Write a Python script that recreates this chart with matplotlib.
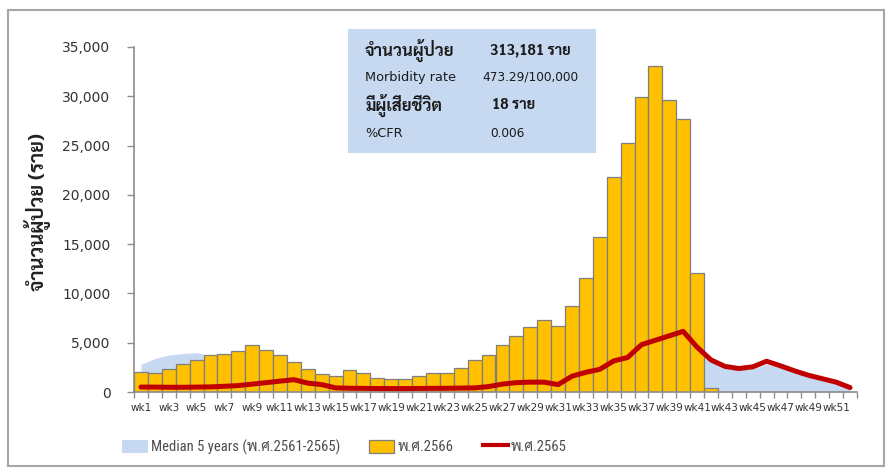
import matplotlib
matplotlib.use("Agg")
import matplotlib.pyplot as plt
import numpy as np
from matplotlib import font_manager
from matplotlib.patches import Patch, Rectangle
from matplotlib.lines import Line2D

# === Data ===
week_labels = [f"wk{i}" for i in range(1, 53)]

cases_2566 = [2060, 1890, 2330, 2800, 3240, 3750, 3820, 4160, 4770, 4260,
              3750, 3070, 2300, 1790, 1620, 2230, 1890, 1450, 1280, 1280,
              1660, 1960, 1960, 2470, 3240, 3750, 4770, 5700, 6620, 7270,
              6690, 8720, 11560, 15750, 21830, 25280, 29940, 33090, 29600, 27680,
              12100, 440]

cases_2565 = [500, 500, 480, 480, 500, 520, 580, 650, 800, 950,
              1100, 1250, 900, 750, 420, 380, 370, 350, 350, 350,
              360, 370, 380, 400, 420, 550, 800, 950, 1000, 1000,
              750, 1600, 2000, 2300, 3150, 3500, 4800, 5250, 5700, 6150,
              4550, 3250, 2600, 2380, 2550, 3120, 2650, 2150, 1700, 1350,
              1000, 450]

median_5y = [2800, 3400, 3750, 3900, 4000, 3700, 3500, 3300, 3000, 2800,
             2500, 2200, 1900, 1600, 1400, 1300, 1250, 1150, 1100, 1100,
             1200, 1350, 1500, 1800, 2200, 2700, 3100, 3500, 3800, 4000,
             4100, 4200, 4300, 4300, 4300, 4200, 4100, 4000, 3900, 3800,
             3700, 3200, 2450, 2250, 2350, 2800, 2450, 2000, 1550, 1200,
             850, 350]

y_ticks = [0, 5000, 10000, 15000, 20000, 25000, 30000, 35000]

info_rows = [
    ("จำนวนผู้ป่วย", "313,181 ราย", True),
    ("Morbidity rate", "473.29/100,000", False),
    ("มีผู้เสียชีวิต", "18 ราย", True),
    ("%CFR", "0.006", False),
]


# === Fonts ===
def pick_font(candidates, default="DejaVu Sans"):
    names = {f.name for f in font_manager.fontManager.ttflist}
    for c in candidates:
        if c in names:
            return c
    return default


thai_font = pick_font(["Sarabun", "Noto Sans Thai Looped", "Noto Sans Thai",
                       "IBM Plex Sans Thai Looped", "Bai Jamjuree"])
narrow_font = pick_font(["Liberation Sans Narrow", "Roboto Condensed",
                         "Open Sans Condensed", "Liberation Sans"])
plt.rcParams["font.family"] = ["DejaVu Sans", thai_font]

BLUE = "#c6d9f1"
GOLD = "#ffc000"
RED = "#c00000"
GRAY = "#8c8c8c"
TXT = "#333333"

fig = plt.figure(figsize=(8.91, 4.73), dpi=100)
ax = fig.add_axes([134 / 891, 1 - 392 / 473, 723 / 891, 345 / 473])

x_all = np.arange(len(week_labels))
x_bar = np.arange(len(cases_2566))

ax.fill_between(x_all, median_5y, color=BLUE, lw=0, zorder=1)
ax.bar(x_bar, cases_2566, width=1.0, color=GOLD, edgecolor="#7f7f7f",
       linewidth=0.9, zorder=2)
ax.plot(x_all, cases_2565, color=RED, lw=3.6, solid_capstyle="round",
        solid_joinstyle="round", zorder=3)

ax.set_xlim(-0.5, len(week_labels) - 0.5)
ax.set_ylim(0, 35000)

# y axis
ax.set_yticks(y_ticks)
ax.set_yticklabels([f"{v:,}" for v in y_ticks])
ax.tick_params(axis="y", direction="out", length=5, width=1, color=GRAY,
               pad=12, labelsize=10, labelcolor=TXT)

# x axis: ticks on category boundaries, labels every second week
ax.set_xticks(np.arange(-0.5, len(week_labels)), labels=[])
ax.tick_params(axis="x", which="major", direction="out", length=4,
               width=1, color=GRAY)
ax.set_xticks(x_all[::2], labels=week_labels[::2], minor=True)
ax.tick_params(axis="x", which="minor", length=0, pad=8, labelsize=7.5,
               labelcolor=TXT)

for s in ["top", "right"]:
    ax.spines[s].set_visible(False)
for s in ["left", "bottom"]:
    ax.spines[s].set_color(GRAY)
    ax.spines[s].set_linewidth(1.2)

fig.text(38 / 891, 1 - 212 / 473, "จำนวนผู้ป่วย (ราย)", rotation=90,
         ha="center", va="center", fontsize=14.5, fontweight="bold",
         family=thai_font, color="#222222")

# info box
fig.patches.append(Rectangle((348 / 891, 1 - 153 / 473), 248 / 891, 124 / 473,
                             transform=fig.transFigure, facecolor=BLUE,
                             edgecolor="none", zorder=0))
row_y = [50, 77, 105, 133]
val_x = [490, 482, 492, 490]
for (lab, val, bold), yy, vx in zip(info_rows, row_y, val_x):
    if bold:
        fig.text(365 / 891, 1 - yy / 473, lab, ha="left", va="center",
                 fontsize=12, fontweight="bold", family=thai_font, color="#1a1a1a")
        fig.text(vx / 891, 1 - yy / 473, val, ha="left", va="center",
                 fontsize=10.5, fontweight="bold", family=thai_font, color="#1a1a1a")
    else:
        fig.text(365 / 891, 1 - yy / 473, lab, ha="left", va="center",
                 fontsize=9.3, color="#1a1a1a")
        fig.text(vx / 891, 1 - yy / 473, val, ha="left", va="center",
                 fontsize=8.7, color="#1a1a1a")

# legend
handles = [
    Patch(facecolor=BLUE, edgecolor="none"),
    Patch(facecolor=GOLD, edgecolor="#7f7f7f", linewidth=0.9),
    Line2D([0], [0], color=RED, lw=3),
]
labels = ["Median 5 years (พ.ศ.2561-2565)", "พ.ศ.2566", "พ.ศ.2565"]
fig.legend(handles, labels, loc="center left",
           bbox_to_anchor=(109 / 891, 1 - 447 / 473),
           ncol=3, frameon=False, handlelength=1.75, handleheight=1.05,
           handletextpad=0.2, columnspacing=2.0, labelcolor="#4d4d4d",
           prop={"family": [narrow_font, thai_font], "size": 10.5})

# outer frame
fig.patches.append(Rectangle((8 / 891, 1 - 466 / 473), 876 / 891, 456 / 473,
                             transform=fig.transFigure, facecolor="none",
                             edgecolor="#a6a6a6", linewidth=1.5, zorder=0))

fig.savefig("out.png", dpi=100)
